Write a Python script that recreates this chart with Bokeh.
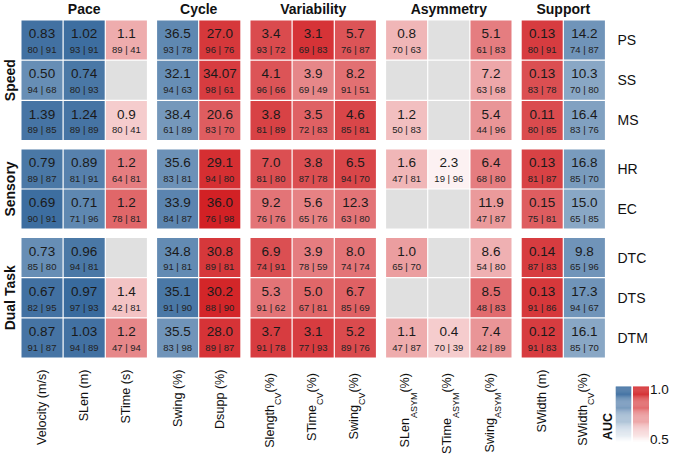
import numpy as np
from bokeh.plotting import figure
from bokeh.models import Range1d, ColumnDataSource, LinearColorMapper
from bokeh.transform import transform
from bokeh.embed import file_html
from bokeh.resources import INLINE
from bokeh.core.properties import value

# ---------------- data ----------------
rows = ["PS", "SS", "MS", "HR", "EC", "DTC", "DTS", "DTM"]
row_groups = ["Speed", "Speed", "Speed", "Sensory", "Sensory",
              "Dual Task", "Dual Task", "Dual Task"]

col_main = ["Velocity", "SLen", "STime", "Swing", "Dsupp", "Slength", "STime",
            "Swing", "SLen", "STime", "Swing", "SWidth", "SWidth"]
col_sub = [None, None, None, None, None, "CV", "CV", "CV", "ASYM", "ASYM",
           "ASYM", None, "CV"]
col_unit = ["(m/s)", "(m)", "(s)", "(%)", "(%)", "(%)", "(%)", "(%)", "(%)",
            "(%)", "(%)", "(m)", "(%)"]
col_groups = ["Pace", "Pace", "Pace", "Cycle", "Cycle", "Variability",
              "Variability", "Variability", "Asymmetry", "Asymmetry",
              "Asymmetry", "Support", "Support"]
col_scale = ["blue", "blue", "red", "blue", "red", "red", "red", "red", "red",
             "red", "red", "red", "blue"]

cell_value = [
    ["0.83", "1.02", "1.1", "36.5", "27.0", "3.4", "3.1", "5.7", "0.8", None, "5.1", "0.13", "14.2"],
    ["0.50", "0.74", None, "32.1", "34.07", "4.1", "3.9", "8.2", None, None, "7.2", "0.13", "10.3"],
    ["1.39", "1.24", "0.9", "38.4", "20.6", "3.8", "3.5", "4.6", "1.2", None, "5.4", "0.11", "16.4"],
    ["0.79", "0.89", "1.2", "35.6", "29.1", "7.0", "3.8", "6.5", "1.6", "2.3", "6.4", "0.13", "16.8"],
    ["0.69", "0.71", "1.2", "33.9", "36.0", "9.2", "5.6", "12.3", None, None, "11.9", "0.15", "15.0"],
    ["0.73", "0.96", None, "34.8", "30.8", "6.9", "3.9", "8.0", "1.0", None, "8.6", "0.14", "9.8"],
    ["0.67", "0.97", "1.4", "35.1", "30.2", "5.3", "5.0", "6.7", None, None, "8.5", "0.13", "17.3"],
    ["0.87", "1.03", "1.2", "35.5", "28.0", "3.7", "3.1", "5.2", "1.1", "0.4", "7.4", "0.12", "16.1"],
]
sensitivity = [
    [80, 93, 89, 93, 96, 93, 69, 76, 70, None, 61, 80, 74],
    [94, 80, None, 94, 98, 96, 69, 91, None, None, 63, 83, 70],
    [89, 89, 80, 61, 83, 81, 72, 85, 50, None, 44, 80, 83],
    [89, 81, 64, 83, 94, 81, 87, 94, 47, 19, 68, 81, 85],
    [90, 71, 78, 84, 76, 76, 65, 63, None, None, 47, 75, 65],
    [85, 94, None, 91, 89, 74, 78, 74, 65, None, 54, 87, 65],
    [82, 97, 42, 91, 88, 91, 67, 85, None, None, 48, 91, 94],
    [91, 94, 47, 83, 89, 91, 77, 89, 47, 70, 42, 91, 85],
]
specificity = [
    [91, 91, 41, 78, 76, 72, 83, 87, 63, None, 83, 91, 87],
    [68, 93, None, 63, 61, 66, 49, 51, None, None, 68, 78, 80],
    [85, 89, 41, 89, 70, 89, 83, 81, 83, None, 96, 85, 76],
    [87, 91, 81, 81, 80, 80, 78, 70, 81, 96, 80, 87, 70],
    [91, 96, 81, 87, 98, 76, 76, 80, None, None, 87, 81, 85],
    [80, 81, None, 81, 81, 91, 59, 74, 70, None, 80, 83, 96],
    [95, 93, 81, 90, 90, 62, 81, 69, None, None, 83, 86, 67],
    [87, 89, 94, 98, 87, 78, 93, 76, 87, 39, 89, 83, 70],
]
auc = [
    [0.95, 0.96, 0.68, 0.88, 0.93, 0.89, 0.94, 0.87, 0.66, None, 0.78, 0.92, 0.84],
    [0.86, 0.93, None, 0.86, 0.92, 0.87, 0.76, 0.81, None, None, 0.69, 0.88, 0.78],
    [0.94, 0.94, 0.61, 0.83, 0.85, 0.91, 0.84, 0.90, 0.64, None, 0.73, 0.89, 0.80],
    [0.93, 0.90, 0.78, 0.85, 0.95, 0.88, 0.88, 0.90, 0.66, 0.53, 0.78, 0.91, 0.82],
    [0.96, 0.88, 0.83, 0.89, 0.98, 0.80, 0.77, 0.80, None, None, 0.72, 0.85, 0.78],
    [0.86, 0.93, None, 0.87, 0.93, 0.88, 0.78, 0.80, 0.71, None, 0.67, 0.92, 0.84],
    [0.95, 0.97, 0.63, 0.93, 0.97, 0.80, 0.83, 0.84, None, None, 0.82, 0.93, 0.84],
    [0.94, 0.95, 0.76, 0.84, 0.94, 0.92, 0.92, 0.89, 0.68, 0.61, 0.73, 0.92, 0.78],
]
auc_ticks = ["1.0", "0.5"]

# ---------------- styling / layout ----------------
FONT = value("Liberation Sans")
W_PX, H_PX = 669, 454

BLUE_END = (45, 98, 152)
RED_END = (208, 24, 28)
MISSING = "#E0E0E0"


def ramp(end, n=256):
    out = []
    for t in np.linspace(0, 1, n):
        r, g, b = (int(round(255 + (e - 255) * t)) for e in end)
        out.append("#%02x%02x%02x" % (r, g, b))
    return out


blue_map = LinearColorMapper(palette=ramp(BLUE_END), low=0.5, high=1.0)
red_map = LinearColorMapper(palette=ramp(RED_END), low=0.5, high=1.0)

X0, XP, XG = 41.5, 42.2, 9.0
Y0, YP, YG = 39.5, 40.2, 8.3
CW, CH = 41.0, 39.0


def group_index(groups):
    seen, idx = [], []
    for g in groups:
        if g not in seen:
            seen.append(g)
        idx.append(seen.index(g))
    return seen, idx


cg_names, cg_idx = group_index(col_groups)
rg_names, rg_idx = group_index(row_groups)
col_x = [X0 + XP * i + XG * g for i, g in enumerate(cg_idx)]
row_y = [Y0 + YP * j + YG * g for j, g in enumerate(rg_idx)]

p = figure(width=W_PX, height=H_PX, output_backend="svg", toolbar_location=None,
           x_range=Range1d(0, W_PX), y_range=Range1d(H_PX, 0),
           x_axis_type=None, y_axis_type=None, min_border=0)
p.outline_line_color = None
p.grid.visible = False
p.background_fill_color = "white"

cells = {"blue": dict(x=[], y=[], auc=[]), "red": dict(x=[], y=[], auc=[])}
miss = dict(x=[], y=[])
txt = dict(x=[], y=[], t=[])
sub = dict(x=[], y=[], t=[])
for j in range(len(rows)):
    for i in range(len(col_main)):
        a = auc[j][i]
        if a is None:
            miss["x"].append(col_x[i]); miss["y"].append(row_y[j])
            continue
        d = cells[col_scale[i]]
        d["x"].append(col_x[i]); d["y"].append(row_y[j]); d["auc"].append(a)
        txt["x"].append(col_x[i]); txt["y"].append(row_y[j] - 6.3)
        txt["t"].append(cell_value[j][i])
        sub["x"].append(col_x[i]); sub["y"].append(row_y[j] + 9.2)
        sub["t"].append("%d | %d" % (sensitivity[j][i], specificity[j][i]))

p.rect(x="x", y="y", width=CW, height=CH, source=ColumnDataSource(cells["blue"]),
       fill_color=transform("auc", blue_map), line_color=None)
p.rect(x="x", y="y", width=CW, height=CH, source=ColumnDataSource(cells["red"]),
       fill_color=transform("auc", red_map), line_color=None)
p.rect(x="x", y="y", width=CW, height=CH, source=ColumnDataSource(miss),
       fill_color=MISSING, line_color=None)
p.text(x="x", y="y", text="t", source=ColumnDataSource(txt), text_font=FONT,
       text_font_size="13.5px", text_align="center", text_baseline="middle",
       text_color="#1a1a1a")
p.text(x="x", y="y", text="t", source=ColumnDataSource(sub), text_font=FONT,
       text_font_size="9.5px", text_align="center", text_baseline="middle",
       text_color="#222222")

# column group headers
for gi, g in enumerate(cg_names):
    xs = [col_x[i] for i in range(len(col_x)) if cg_idx[i] == gi]
    p.text(x=[np.mean(xs)], y=[8], text=[g], text_font=FONT, text_font_size="14px",
           text_font_style="bold", text_align="center", text_baseline="middle",
           text_color="#111111")

# row group labels
for gi, g in enumerate(rg_names):
    ys = [row_y[j] for j in range(len(row_y)) if rg_idx[j] == gi]
    p.text(x=[9], y=[np.mean(ys)], text=[g], angle=np.pi / 2, text_font=FONT,
           text_font_size="14px", text_font_style="bold", text_align="center",
           text_baseline="middle", text_color="#111111")

# row labels
p.text(x=[617] * len(rows), y=row_y, text=rows, text_font=FONT, text_font_size="14px",
       text_align="left", text_baseline="middle", text_color="#111111")

# column labels (rotated, with subscripts)
AW = {'V': 667, 'e': 556, 'l': 222, 'o': 556, 'c': 500, 'i': 222, 't': 278, 'y': 500,
      ' ': 278, '(': 333, 'm': 833, '/': 278, 's': 500, ')': 333, 'S': 667, 'L': 556,
      'n': 556, 'T': 611, 'w': 722, 'g': 556, '%': 889, 'D': 722, 'u': 556, 'p': 556,
      'h': 556, 'C': 722, 'A': 667, 'Y': 667, 'M': 833, 'W': 944, 'd': 556}


def tw(s, size):
    return sum(AW.get(c, 556) for c in s) / 1000.0 * size


LAB = 12.6
SUBS = 9.0
TOP = 369
for i in range(len(col_main)):
    xc = col_x[i]
    common = dict(angle=np.pi / 2, text_font=FONT, text_align="right",
                  text_baseline="middle", text_color="#111111")
    if col_sub[i] is None:
        p.text(x=[xc], y=[TOP], text=[col_main[i] + " " + col_unit[i]],
               text_font_size="%gpx" % LAB, **common)
    else:
        unit = " " + col_unit[i]
        p.text(x=[xc - 1.5], y=[TOP], text=[unit], text_font_size="%gpx" % LAB, **common)
        y2 = TOP + tw(unit, LAB)
        p.text(x=[xc + 7.0], y=[y2], text=[col_sub[i]], text_font_size="%gpx" % SUBS, **common)
        y3 = y2 + tw(col_sub[i], SUBS)
        p.text(x=[xc - 1.5], y=[y3], text=[col_main[i]], text_font_size="%gpx" % LAB, **common)

# colour bar (AUC legend), shifted left to fit the canvas
N = 60
levels = np.linspace(0.5, 1.0, N)
CB_TOP, CB_BOT = 387, 442
seg = (CB_BOT - CB_TOP) / N
cb_y = [CB_BOT - (a - 0.5) / 0.5 * (CB_BOT - CB_TOP) - seg / 2 for a in levels]
for cx, cw, mp in ((623, 15.5, blue_map), (640.5, 16, red_map)):
    src = ColumnDataSource(dict(x=[cx] * N, y=cb_y, a=list(levels)))
    p.rect(x="x", y="y", width=cw, height=seg * 1.15, source=src,
           fill_color=transform("a", mp), line_color=None)
p.text(x=[649.5, 649.5], y=[CB_TOP + 2, CB_BOT - 3], text=auc_ticks, text_font=FONT,
       text_font_size="13.5px", text_align="left", text_baseline="middle",
       text_color="#111111")
p.text(x=[607], y=[426], text=["AUC"], angle=np.pi / 2, text_font=FONT,
       text_font_size="12.5px", text_font_style="bold", text_align="center",
       text_baseline="middle", text_color="#111111")

open("out.html", "w").write(file_html(p, INLINE))
